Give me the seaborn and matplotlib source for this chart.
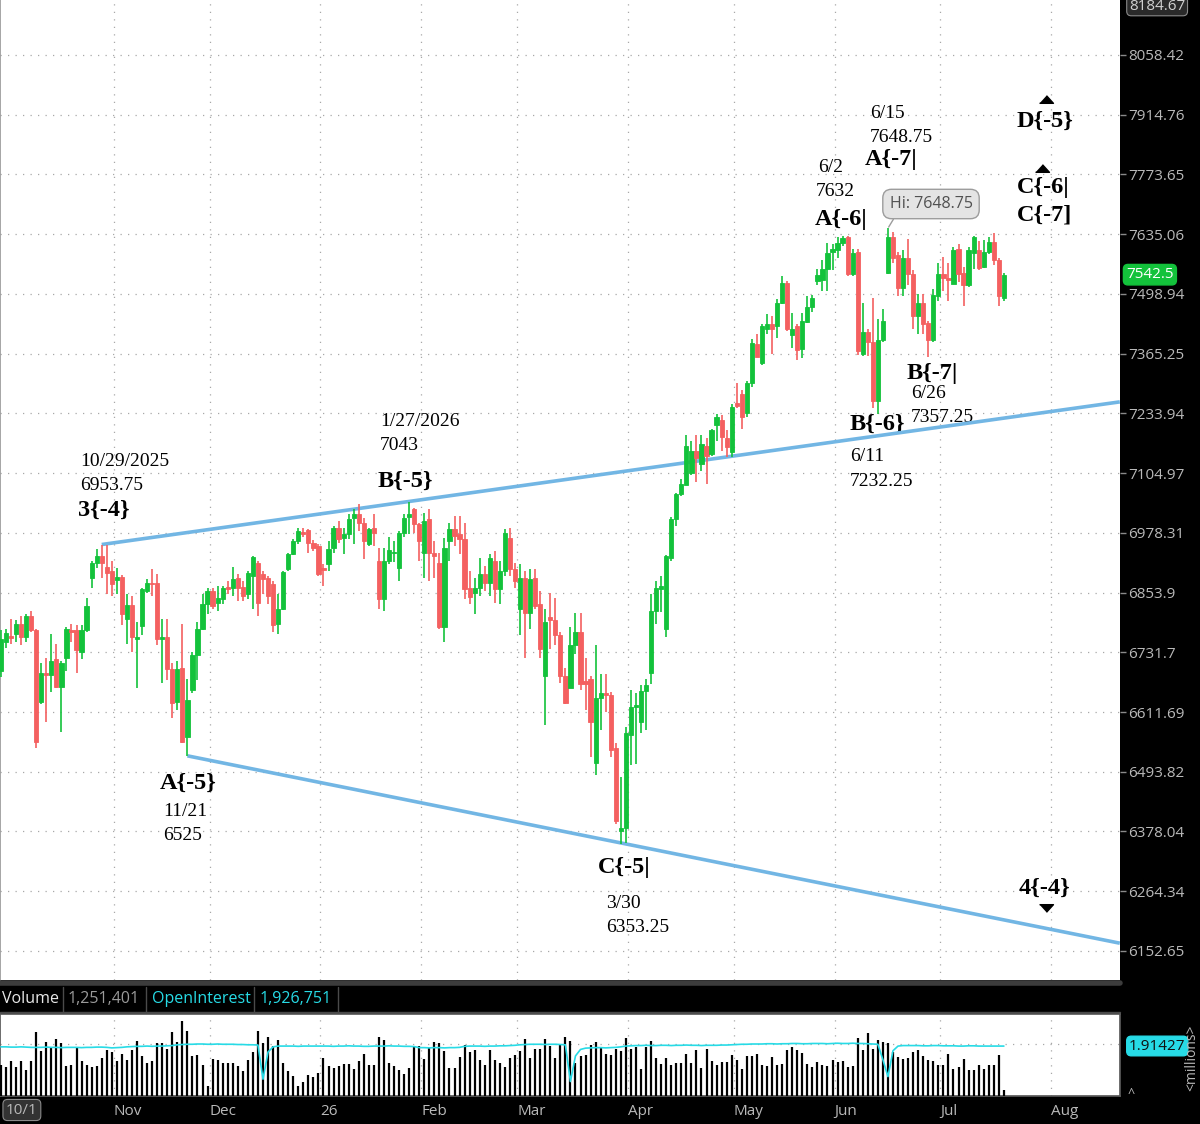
import numpy as np
import pandas as pd
import matplotlib
matplotlib.use("Agg")
import matplotlib.pyplot as plt
import matplotlib.transforms as mtransforms
from matplotlib.ticker import FixedLocator, FixedFormatter, NullLocator, NullFormatter
import seaborn as sns

# ---------------------------------------------------------------------
# data (daily bars 10/1/2025 .. 7/20/2026)
# ---------------------------------------------------------------------
HOLIDAYS = ["2025-11-27", "2025-12-25", "2026-01-01", "2026-01-19", "2026-02-16",
            "2026-04-03", "2026-05-25", "2026-06-19", "2026-07-03"]

OPEN = [6694, 6752, 6765, 6769, 6790, 6763, 6805, 6777, 6631, 6690,
        6686, 6718, 6661, 6720, 6778, 6777, 6733, 6777, 6884, 6916,
        6930, 6907, 6899, 6880, 6886, 6800, 6828, 6759, 6786, 6857,
        6874, 6874, 6759, 6763, 6698, 6631, 6700, 6562, 6655, 6727,
        6780, 6830, 6857, 6832, 6840, 6865, 6863, 6884, 6865, 6851,
        6889, 6916, 6893, 6884, 6872, 6790, 6821, 6903, 6934, 6961,
        6980, 6984, 6957, 6951, 6905, 6914, 6947, 6989, 6968, 6976,
        7010, 7018, 6999, 6955, 6989, 6920, 6840, 6920, 6936, 6905,
        6978, 7012, 7029, 6997, 6936, 7008, 6936, 6916, 6784, 6961,
        6986, 6976, 6966, 6863, 6853, 6863, 6893, 6874, 6920, 6861,
        6899, 6968, 6903, 6821, 6884, 6811, 6884, 6830, 6684, 6803,
        6798, 6767, 6684, 6660, 6746, 6773, 6674, 6678, 6511, 6639,
        6649, 6645, 6540, 6379, 6385, 6566, 6621, 6592, 6653, 6690,
        6815, 6861, 6780, 6926, 7008, 7061, 7080, 7105, 7153, 7124,
        7164, 7146, 7208, 7219, 7181, 7151, 7257, 7277, 7234, 7300,
        7387, 7344, 7421, 7432, 7426, 7479, 7524, 7406, 7426, 7376,
        7436, 7470, 7529, 7531, 7556, 7594, 7598, 7614, 7628, 7545,
        7594, 7365, 7414, 7390, 7262, 7395, 7547, 7628, 7587, 7513,
        7580, 7545, 7450, 7479, 7433, 7395, 7495, 7545, 7536, 7522,
        7600, 7547, 7518, 7591, 7598, 7560, 7594, 7616, 7575, 7490]

HIGH = [6777, 6780, 6800, 6798, 6805, 6809, 6815, 6779, 6710, 6720,
        6769, 6748, 6714, 6784, 6790, 6788, 6788, 6842, 6920, 6945,
        6953.75, 6953, 6920, 6905, 6890, 6851, 6847, 6794, 6863, 6882,
        6903, 6893, 6800, 6800, 6710, 6714, 6790, 6678, 6733, 6794,
        6851, 6863, 6863, 6867, 6867, 6878, 6907, 6893, 6878, 6899,
        6930, 6920, 6899, 6888, 6878, 6851, 6899, 6936, 6966, 6989,
        6989, 6986, 6963, 6955, 6914, 6962, 6993, 7004, 6989, 7018,
        7029, 7040, 7010, 6988, 7018, 6947, 6947, 6970, 6961, 6982,
        7018, 7043, 7031, 6999, 7020, 7029, 6961, 6936, 6968, 6999,
        7014, 7014, 6999, 6899, 6884, 6926, 6909, 6934, 6941, 6920,
        6986, 6989, 6916, 6914, 6899, 6903, 6903, 6857, 6821, 6853,
        6842, 6773, 6700, 6784, 6811, 6811, 6720, 6684, 6746, 6688,
        6688, 6651, 6550, 6483, 6582, 6655, 6649, 6665, 6678, 6851,
        6878, 6888, 6932, 7012, 7063, 7093, 7186, 7175, 7186, 7186,
        7181, 7201, 7232, 7230, 7197, 7255, 7300, 7284, 7305, 7398,
        7410, 7432, 7453, 7450, 7488, 7540, 7529, 7456, 7432, 7456,
        7495, 7497, 7556, 7575, 7614, 7612, 7628, 7632, 7631, 7600,
        7600, 7479, 7420, 7490, 7443, 7465, 7648.75, 7640, 7594, 7598,
        7625, 7552, 7499, 7499, 7438, 7510, 7568, 7582, 7568, 7605,
        7612, 7560, 7605, 7632, 7620, 7621, 7628, 7637, 7580, 7547]

LOW = [6682, 6740, 6748, 6752, 6746, 6752, 6773, 6540, 6627, 6592,
       6651, 6659, 6572, 6694, 6752, 6690, 6718, 6773, 6863, 6905,
       6884, 6851, 6847, 6851, 6788, 6748, 6732, 6659, 6767, 6853,
       6847, 6746, 6670, 6675, 6600, 6615, 6550, 6525, 6650, 6675,
       6778, 6809, 6820, 6815, 6830, 6850, 6847, 6836, 6836, 6840,
       6820, 6805, 6851, 6830, 6773, 6769, 6818, 6899, 6932, 6955,
       6970, 6936, 6940, 6888, 6867, 6899, 6936, 6957, 6934, 6966,
       6955, 6982, 6924, 6951, 6950, 6820, 6815, 6914, 6918, 6878,
       6970, 6976, 6978, 6920, 6884, 6878, 6884, 6780, 6752, 6920,
       6951, 6934, 6840, 6830, 6809, 6847, 6857, 6847, 6832, 6830,
       6888, 6888, 6863, 6767, 6720, 6780, 6820, 6720, 6586, 6738,
       6746, 6670, 6627, 6659, 6728, 6655, 6615, 6523, 6488, 6576,
       6611, 6523, 6393, 6353.25, 6356, 6507, 6509, 6570, 6576, 6668,
       6790, 6813, 6763, 6920, 6993, 7057, 7080, 7100, 7086, 7110,
       7082, 7142, 7175, 7153, 7140, 7140, 7245, 7201, 7225, 7292,
       7357, 7340, 7410, 7365, 7400, 7477, 7415, 7378, 7352, 7355,
       7433, 7458, 7520, 7506, 7506, 7554, 7580, 7608, 7540, 7540,
       7363, 7360, 7360, 7245, 7232.25, 7392, 7545, 7570, 7495, 7495,
       7518, 7420, 7408, 7408, 7357.25, 7390, 7484, 7506, 7484, 7522,
       7525, 7472, 7515, 7556, 7554, 7558, 7590, 7564, 7472, 7484]

CLOSE = [6759, 6771, 6761, 6790, 6763, 6805, 6777, 6552, 6690, 6686,
         6714, 6661, 6710, 6780, 6773, 6736, 6777, 6826, 6916, 6930,
         6916, 6895, 6872, 6886, 6809, 6828, 6763, 6763, 6861, 6874,
         6872, 6759, 6763, 6698, 6629, 6698, 6552, 6635, 6727, 6780,
         6830, 6857, 6826, 6842, 6863, 6861, 6882, 6863, 6847, 6895,
         6928, 6832, 6882, 6847, 6788, 6821, 6897, 6934, 6961, 6982,
         6976, 6957, 6947, 6893, 6901, 6945, 6989, 6966, 6976, 7008,
         7018, 6999, 6961, 6986, 6978, 6840, 6920, 6943, 6939, 6978,
         7010, 7018, 6997, 6961, 7003, 6936, 6930, 6784, 6947, 6986,
         6972, 6966, 6861, 6844, 6863, 6893, 6874, 6926, 6861, 6899,
         6978, 6903, 6878, 6884, 6811, 6882, 6826, 6738, 6794, 6798,
         6767, 6684, 6629, 6746, 6773, 6668, 6668, 6592, 6639, 6649,
         6645, 6537, 6399, 6385, 6570, 6621, 6625, 6653, 6665, 6815,
         6863, 6867, 6930, 7008, 7061, 7082, 7164, 7153, 7138, 7168,
         7142, 7197, 7225, 7183, 7160, 7247, 7251, 7225, 7300, 7388,
         7357, 7426, 7432, 7421, 7479, 7524, 7420, 7420, 7374, 7438,
         7470, 7490, 7542, 7556, 7591, 7600, 7614, 7626, 7545, 7591,
         7370, 7414, 7390, 7262, 7395, 7438, 7628, 7580, 7513, 7580,
         7545, 7450, 7479, 7431, 7395, 7497, 7545, 7536, 7531, 7598,
         7545, 7518, 7598, 7628, 7558, 7594, 7616, 7575, 7495, 7542.5]

# volume and open interest, millions
VOLUME = [1.21, 1.12, 1.34, 1.12, 1.37, 0.99, 1.37, 2.47, 1.73, 2.08,
          1.89, 2.19, 2.03, 1.17, 1.21, 1.84, 1.34, 1.21, 1.12, 1.17,
          1.47, 1.77, 1.72, 1.34, 1.64, 1.38, 1.77, 2.12, 1.54, 1.28,
          1.34, 2.03, 2.03, 1.82, 2.47, 2.08, 2.90, 2.51, 1.54, 1.60,
          1.21, 0.39, 1.43, 1.38, 1.28, 1.28, 1.28, 1.17, 0.98, 1.38,
          1.71, 2.51, 2.06, 2.29, 1.93, 2.16, 1.28, 0.95, 0.78, 0.39,
          0.56, 0.82, 0.73, 0.89, 1.48, 1.15, 1.08, 1.15, 1.25, 1.25,
          1.04, 1.34, 1.64, 1.21, 1.21, 2.29, 2.16, 1.28, 1.17, 0.99,
          0.86, 1.08, 1.93, 1.95, 1.43, 1.86, 2.08, 2.03, 1.73, 1.08,
          1.08, 1.51, 1.99, 1.69, 1.77, 1.41, 1.21, 1.77, 1.38, 1.28,
          1.12, 1.47, 1.60, 1.73, 2.19, 1.47, 1.80, 1.80, 2.19, 1.93,
          1.47, 1.99, 2.29, 2.12, 1.28, 1.56, 1.60, 1.99, 2.08, 1.84,
          1.64, 1.60, 1.80, 1.73, 2.25, 1.80, 1.89, 1.04, 1.90, 2.12,
          1.47, 1.25, 1.47, 1.21, 1.28, 1.28, 1.64, 1.28, 1.77, 1.08,
          1.80, 1.37, 1.21, 1.32, 1.32, 1.60, 1.41, 1.04, 1.54, 1.54,
          1.64, 1.21, 1.17, 1.51, 1.21, 1.25, 1.77, 1.90, 1.77, 1.67,
          1.25, 1.12, 1.32, 1.21, 1.17, 1.41, 1.32, 1.34, 1.12, 1.17,
          2.25, 1.77, 2.42, 1.82, 2.16, 2.08, 2.06, 1.69, 1.51, 1.43,
          1.47, 1.69, 1.77, 1.54, 1.41, 1.37, 1.21, 1.21, 1.64, 1.04,
          1.12, 1.43, 0.99, 0.99, 1.21, 1.04, 1.21, 1.21, 1.58, 0.23]

OPEN_INTEREST = [1.90, 1.90, 1.89, 1.89, 1.90, 1.89, 1.88, 1.88, 1.88, 1.89,
                 1.88, 1.88, 1.87, 1.88, 1.88, 1.88, 1.87, 1.88, 1.88, 1.89,
                 1.89, 1.88, 1.86, 1.87, 1.88, 1.90, 1.91, 1.92, 1.92, 1.93,
                 1.92, 1.93, 1.93, 1.94, 1.95, 1.98, 1.99, 2.00, 2.00, 2.01,
                 2.01, 2.00, 2.00, 2.01, 2.00, 2.00, 2.00, 1.99, 1.99, 1.98,
                 1.98, 1.97, 0.65, 1.70, 1.90, 1.93, 1.93, 1.93, 1.93, 1.92,
                 1.93, 1.93, 1.93, 1.93, 1.93, 1.93, 1.92, 1.93, 1.93, 1.94,
                 1.93, 1.93, 1.92, 1.92, 1.93, 1.93, 1.93, 1.94, 1.93, 1.93,
                 1.92, 1.92, 1.91, 1.87, 1.87, 1.86, 1.87, 1.87, 1.86, 1.87,
                 1.87, 1.88, 1.92, 1.93, 1.93, 1.93, 1.92, 1.93, 1.93, 1.94,
                 1.94, 1.95, 1.96, 1.98, 1.99, 2.00, 2.00, 2.00, 1.99, 2.00,
                 2.00, 1.99, 1.98, 0.56, 1.55, 1.80, 1.85, 1.86, 1.87, 1.87,
                 1.86, 1.87, 1.88, 1.90, 1.93, 1.94, 1.95, 1.95, 1.96, 1.95,
                 1.95, 1.96, 1.96, 1.95, 1.96, 1.96, 1.97, 1.96, 1.96, 1.95,
                 1.96, 1.96, 1.96, 1.97, 1.97, 1.98, 1.99, 2.00, 2.00, 2.01,
                 2.01, 2.01, 2.02, 2.02, 2.01, 2.02, 2.02, 2.03, 2.03, 2.02,
                 2.02, 2.03, 2.03, 2.03, 2.02, 2.03, 2.04, 2.03, 2.03, 2.04,
                 2.03, 2.03, 2.02, 2.01, 2.00, 1.40, 0.75, 1.75, 1.93, 1.95,
                 1.95, 1.95, 1.95, 1.94, 1.94, 1.95, 1.95, 1.94, 1.94, 1.94,
                 1.93, 1.93, 1.94, 1.94, 1.93, 1.93, 1.93, 1.93, 1.93, 1.93]

PRICE_TICKS = [8058.42, 7914.76, 7773.65, 7635.06, 7498.94, 7365.25, 7233.94, 7104.97,
               6978.31, 6853.9, 6731.7, 6611.69, 6493.82, 6378.04, 6264.34, 6152.65]
PRICE_RANGE = (6099, 8193)
MONTH_LABELS = ["Nov", "Dec", "26", "Feb", "Mar", "Apr", "May", "Jun", "Jul", "Aug"]

# trendlines: (bar, price) anchors
UPPER_LINE = [(20, 6953.75), (222, 7259)]
LOWER_LINE = [(37, 6525), (222, 6167)]

# ---------------------------------------------------------------------
sessions = pd.bdate_range("2025-10-01", "2026-08-31")
sessions = sessions[~sessions.isin(pd.to_datetime(HOLIDAYS))]
bars = np.arange(len(CLOSE))
df = pd.DataFrame({"date": sessions[:len(CLOSE)], "open": OPEN, "high": HIGH,
                   "low": LOW, "close": CLOSE, "volume": VOLUME, "oi": OPEN_INTEREST})
df["bar"] = bars
s = pd.Series(np.arange(len(sessions)), index=sessions)
month_first = s.groupby([sessions.year, sessions.month]).first().values[1:]
month_grid = month_first - 0.6
XLIM = (-0.18, 222.04)

sns.set_theme(style="white")
plt.rcParams["font.family"] = ["Open Sans", "DejaVu Sans"]
SERIF = ["Liberation Serif", "DejaVu Serif"]

GREEN = "#13c23b"
RED = "#f46060"
BLUE = "#72b6e4"
CYAN = "#27dbe6"
GREY_TXT = "#b9b9b9"
GRID = dict(color="#a8a8a8", linestyle=(0, (1, 5)), linewidth=0.9)

fig = plt.figure(figsize=(12, 11.24), dpi=100, facecolor="black")
W, H = 1200, 1124


def fx(x, y):
    return x / W, 1 - y / H


ax = fig.add_axes([0, 1 - 980 / H, 1120 / W, 980 / H])
axv = fig.add_axes([0, 1 - 1096 / H, 1120 / W, 82 / H])

# ---------------- price panel ----------------
ax.set_facecolor("white")
ax.set_yscale("log")
ax.set_xlim(*XLIM)
ax.set_ylim(*PRICE_RANGE)
ax.yaxis.set_major_locator(FixedLocator(PRICE_TICKS))
ax.yaxis.set_major_formatter(FixedFormatter([f"{v:g}" for v in PRICE_TICKS]))
ax.yaxis.set_minor_locator(NullLocator())
ax.yaxis.set_minor_formatter(NullFormatter())
ax.tick_params(axis="y", which="major", right=True, left=False, labelright=True,
               labelleft=False, length=4, width=1, color="#8a8a8a", pad=2,
               labelcolor=GREY_TXT, labelsize=11)
ax.set_xticks([])
for sp in ["top", "right", "bottom"]:
    ax.spines[sp].set_visible(False)
ax.spines["left"].set_color("#9a9a9a")
for v in PRICE_TICKS:
    ax.axhline(v, zorder=0, **GRID)
for g in month_grid:
    ax.axvline(g, zorder=0, **GRID)

up = df["close"] >= df["open"]
colors = np.where(up, GREEN, RED)
ax.vlines(df["bar"], df["low"], df["high"], colors=colors, linewidth=1.2, zorder=3)
ax.bar(df["bar"], (df["close"] - df["open"]).abs(), bottom=df[["open", "close"]].min(axis=1),
       width=0.84, color=colors, edgecolor=colors, linewidth=0.6, zorder=3)

for line in (UPPER_LINE, LOWER_LINE):
    xs, ys = zip(*line)
    ax.plot(xs, ys, color=BLUE, linewidth=2.6, solid_capstyle="butt", zorder=2)

# swing labels (text, x px, y px, bold)
LABELS = [
    ("10/29/2025", 80, 461, False), ("6953.75", 80, 485, False), ("3{-4}", 78, 510, True),
    ("1/27/2026", 380, 422, False), ("7043", 380, 446, False), ("B{-5}", 378, 481, True),
    ("A{-5}", 160, 783, True), ("11/21", 163, 811, False), ("6525", 163, 835, False),
    ("C{-5|", 598, 867, True), ("3/30", 606, 904, False), ("6353.25", 606, 928, False),
    ("6/2", 818, 168, False), ("7632", 816, 191, False), ("A{-6|", 815, 219, True),
    ("6/15", 870, 114, False), ("7648.75", 870, 138, False), ("A{-7|", 865, 160, True),
    ("B{-6}", 850, 424, True), ("6/11", 850, 457, False), ("7232.25", 850, 481, False),
    ("B{-7|", 907, 373, True), ("6/26", 911, 394, False), ("7357.25", 911, 418, False),
    ("D{-5}", 1017, 121, True), ("C{-6|", 1017, 187, True), ("C{-7]", 1017, 215, True),
    ("4{-4}", 1019, 888, True),
]
for txt, x, y, bold in LABELS:
    ax.text(x / 1120, 1 - y / 980, txt, transform=ax.transAxes, ha="left", va="center",
            family=SERIF, fontsize=17.5 if bold else 14,
            fontweight="bold" if bold else "normal", color="black", zorder=1)

TRI_UP = [(-1.0, -0.55), (1.0, -0.55), (0.0, 0.55)]
TRI_DN = [(-1.0, 0.55), (1.0, 0.55), (0.0, -0.55)]
for x, y, m in [(1046, 99, TRI_UP), (1042, 168, TRI_UP), (1046, 908, TRI_DN)]:
    ax.plot([x / 1120], [1 - y / 980], marker=m, markersize=10, color="black",
            transform=ax.transAxes, clip_on=False, zorder=5)

hi = df.loc[df["high"].idxmax()]
ax.annotate(f"Hi: {hi['high']:g}", xy=(hi["bar"], hi["high"]), xycoords="data",
            xytext=(931 / 1120, 1 - 204 / 980), textcoords="axes fraction",
            ha="center", va="center", fontsize=11.5, color="#505050",
            bbox=dict(boxstyle="round,pad=0.42,rounding_size=0.55", fc="#e4e4e4", ec="#9c9c9c", lw=1),
            arrowprops=dict(arrowstyle="-", color="#9c9c9c", lw=1, shrinkA=0, shrinkB=1,
                            relpos=(0.1, 0.0)), zorder=6)

# last price box
blend = mtransforms.blended_transform_factory(ax.transAxes, ax.transData)
ax.text(1.0055, df["close"].iloc[-1], f"{df['close'].iloc[-1]:g}", transform=blend,
        ha="left", va="center", fontsize=11, color="white", clip_on=False,
        bbox=dict(boxstyle="round,pad=0.18,rounding_size=0.3", fc=GREEN, ec=GREEN))
fig.text(*fx(1129, 6), f"{PRICE_RANGE[1] - 8.33:.2f}", ha="left", va="center", fontsize=11,
         color="#d0d0d0", bbox=dict(boxstyle="round,pad=0.15,rounding_size=0.3",
                                    fc="#2a2a2a", ec="#8a8a8a", lw=0.8))

# ---------------- volume panel ----------------
axv.set_facecolor("white")
axv.set_xlim(*XLIM)
axv.set_ylim(0, 3.17)
axv.vlines(df["bar"], 0, df["volume"], color="black", linewidth=1.6, zorder=3)
sns.lineplot(data=df, x="bar", y="oi", ax=axv, color=CYAN, linewidth=1.2, zorder=4)
axv.axhline(2.0, zorder=0, **GRID)
for g in month_grid:
    axv.axvline(g, zorder=0, **GRID)
axv.set_yticks([])
axv.set_xlabel("")
axv.set_ylabel("")
axv.set_xticks(month_grid)
axv.set_xticklabels(MONTH_LABELS, ha="left")
axv.tick_params(axis="x", length=0, pad=6, labelcolor=GREY_TXT, labelsize=11)
for sp in axv.spines.values():
    sp.set_color("#5a5a5a")

fig.text(*fx(1129, 1046), "1.91427", ha="left", va="center", fontsize=11, color="#101010",
         bbox=dict(boxstyle="round,pad=0.15,rounding_size=0.3", fc=CYAN, ec=CYAN))
fig.text(*fx(1192, 1058), "<millions>", rotation=90, ha="center", va="center",
         fontsize=10, color=GREY_TXT)
fig.text(*fx(1131, 1094), "^", ha="center", va="center", fontsize=9, color=GREY_TXT)

fig.text(*fx(6, 1110), "10/1", ha="left", va="center", fontsize=11, color=GREY_TXT,
         bbox=dict(boxstyle="round,pad=0.2,rounding_size=0.3", fc="#333333", ec="#8a8a8a", lw=0.8))

# ---------------- header strip ----------------
fig.add_artist(plt.Line2D([0, 1120 / W], [1 - 983 / H] * 2, color="#3c3c3c", lw=4))
fig.add_artist(plt.Line2D([0, 1120 / W], [1 - 1012 / H] * 2, color="#4a4a4a", lw=1))
for xs in [63, 146, 254, 338]:
    fig.add_artist(plt.Line2D([xs / W] * 2, [1 - 987 / H, 1 - 1012 / H], color="#4a4a4a", lw=1))
fig.text(*fx(2, 999), "Volume", ha="left", va="center", fontsize=11.5, color="#e8e8e8")
fig.text(*fx(68, 999), "1,251,401", ha="left", va="center", fontsize=11.5, color="#9a9a9a")
fig.text(*fx(152, 999), "OpenInterest", ha="left", va="center", fontsize=11.5, color=CYAN)
fig.text(*fx(260, 999), "1,926,751", ha="left", va="center", fontsize=11.5, color=CYAN)

fig.savefig("out.png", dpi=100, facecolor=fig.get_facecolor())
